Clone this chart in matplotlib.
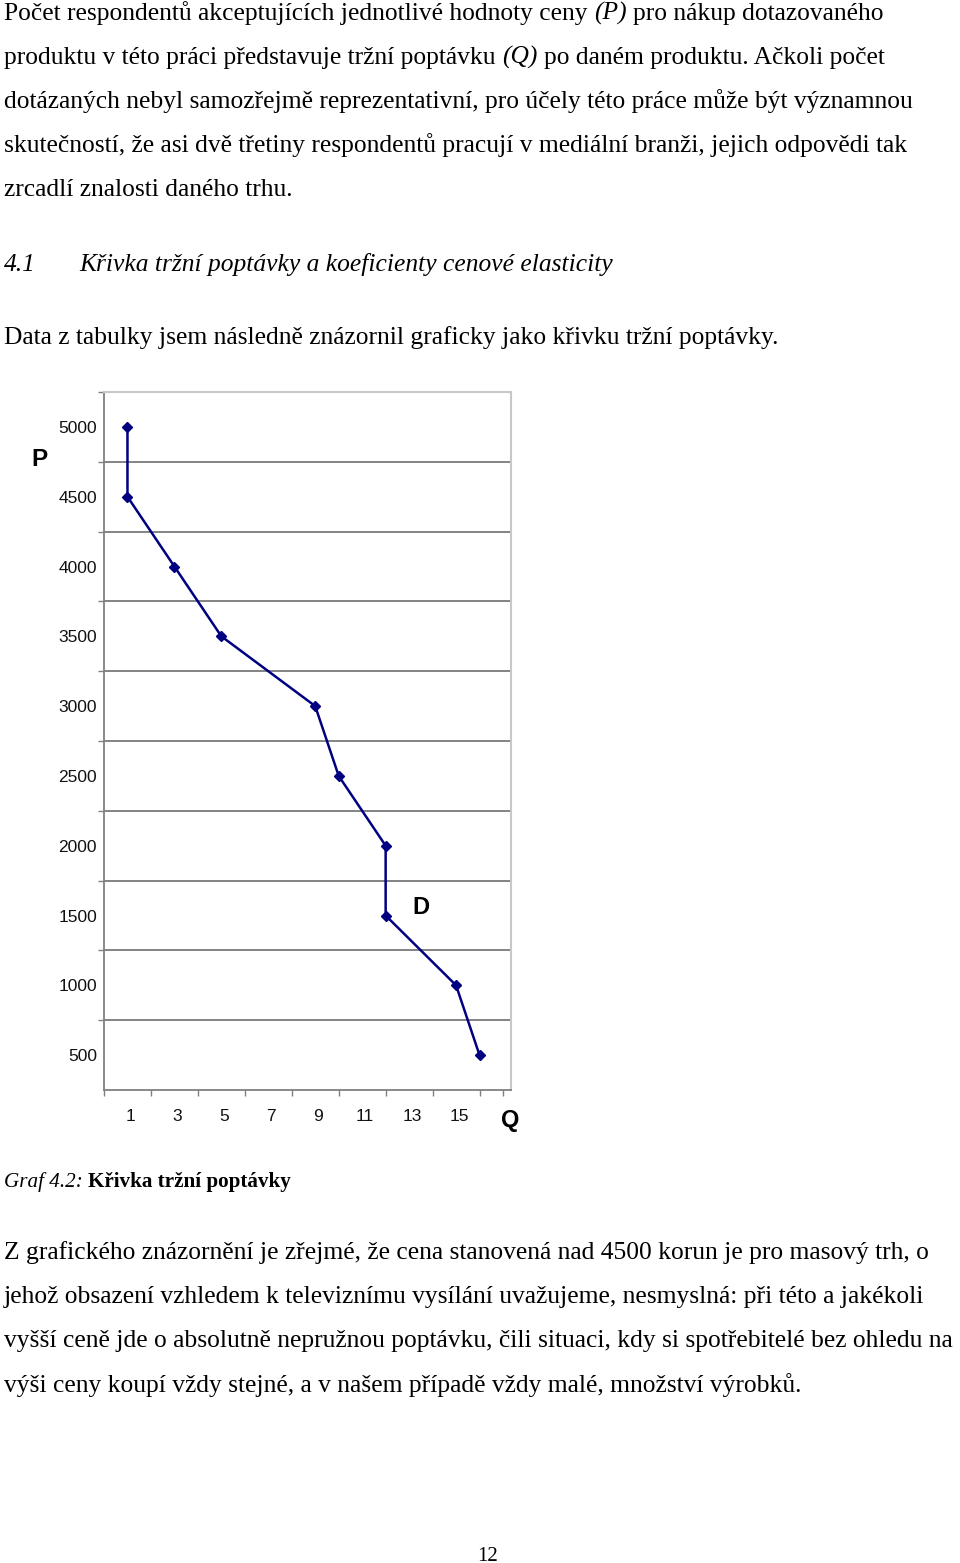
import matplotlib
matplotlib.use('Agg')
import matplotlib.pyplot as plt
import matplotlib.transforms as mtransforms
import numpy as np

# ---------------- data ----------------
Q = [1, 1, 3, 5, 9, 10, 12, 12, 15, 16]
P = [5000, 4500, 4000, 3500, 3000, 2500, 2000, 1500, 1000, 500]
x_tick_values = [1, 3, 5, 7, 9, 11, 13, 15]
y_tick_values = [5000, 4500, 4000, 3500, 3000, 2500, 2000, 1500, 1000, 500]
grid_values = [750, 1250, 1750, 2250, 2750, 3250, 3750, 4250, 4750]

para1 = [
    [("Počet respondentů akceptujících jednotlivé hodnoty ceny", "normal", "normal"),
     ("(P)", "italic", "normal"),
     ("pro nákup dotazovaného", "normal", "normal")],
    [("produktu v této práci představuje tržní poptávku", "normal", "normal"),
     ("(Q)", "italic", "normal"),
     ("po daném produktu. Ačkoli počet", "normal", "normal")],
    [("dotázaných nebyl samozřejmě reprezentativní, pro účely této práce může být významnou", "normal", "normal")],
    [("skutečností, že asi dvě třetiny respondentů pracují v mediální branži, jejich odpovědi tak", "normal", "normal")],
    [("zrcadlí znalosti daného trhu.", "normal", "normal")],
]
heading_num = "4.1"
heading_text = "Křivka tržní poptávky a koeficienty cenové elasticity"
intro_line = "Data z tabulky jsem následně znázornil graficky jako křivku tržní poptávky."
caption = [("Graf 4.2:", "italic", "normal"), ("Křivka tržní poptávky", "normal", "bold")]
para2 = [
    "Z grafického znázornění je zřejmé, že cena stanovená nad 4500 korun je pro masový trh, o",
    "jehož obsazení vzhledem k televiznímu vysílání uvažujeme, nesmyslná: při této a jakékoli",
    "vyšší ceně jde o absolutně nepružnou poptávku, čili situaci, kdy si spotřebitelé bez ohledu na",
    "výši ceny koupí vždy stejné, a v našem případě vždy malé, množství výrobků.",
]
page_number = "12"

# ---------------- figure ----------------
W, H = 960, 1563
fig = plt.figure(figsize=(W / 100, H / 100), dpi=100)
fig.patch.set_facecolor('white')
renderer = fig.canvas.get_renderer()

SERIF = ['Liberation Serif', 'DejaVu Serif']
SANS = ['Liberation Sans', 'DejaVu Sans']


def fx(x):
    return x / W


def fy(y):
    return 1 - y / H


def width_of(s, size, style, weight):
    t = fig.text(0, 0, s, fontsize=size, family=SERIF, style=style, weight=weight)
    w = t.get_window_extent(renderer=renderer).width
    t.remove()
    return w


def seg_line(x, y, segments, size):
    space = width_of("x x", size, "normal", "normal") - width_of("xx", size, "normal", "normal")
    for i, (txt, style, weight) in enumerate(segments):
        t = fig.text(fx(x), fy(y), txt, fontsize=size, family=SERIF, style=style,
                     weight=weight, va='baseline', ha='left')
        x += t.get_window_extent(renderer=renderer).width + space


BODY = 18.35
baselines1 = [20, 64, 108, 152, 196]
for yb, segs in zip(baselines1, para1):
    seg_line(4, yb, segs, BODY)

fig.text(fx(4), fy(271), heading_num, fontsize=BODY, family=SERIF, style='italic', va='baseline')
fig.text(fx(79), fy(271), heading_text, fontsize=BODY, family=SERIF, style='italic', va='baseline')
fig.text(fx(4), fy(344), intro_line, fontsize=BODY, family=SERIF, va='baseline')

seg_line(4, 1187, caption, 15.2)

baselines2 = [1259, 1303, 1347, 1392]
for yb, line in zip(baselines2, para2):
    fig.text(fx(4), fy(yb), line, fontsize=BODY, family=SERIF, va='baseline')

fig.text(fx(488), fy(1561), page_number, fontsize=15, family=SERIF, ha='center', va='baseline')

# ---------------- chart ----------------
ax_left, ax_right, ax_top, ax_bottom = 104, 511, 392, 1090
px_per_q = 23.47
ax = fig.add_axes([fx(ax_left), fy(ax_bottom), (ax_right - ax_left) / W, (ax_bottom - ax_top) / H])
ax.set_facecolor('white')

ax.plot(Q, P, color='#000080', lw=1.8, marker='D', ms=5.5, mfc='#000080',
        mec='#000080', zorder=3, clip_on=False)

ax.set_xlim(0, (ax_right - ax_left) / px_per_q)
ax.set_ylim(250, 5250)

# y axis: labels at price values, gridlines between them
ax.set_yticks(y_tick_values)
ax.set_yticklabels([str(v) for v in y_tick_values])
ax.set_yticks(grid_values + [5250], minor=True)
ax.tick_params(axis='y', which='major', length=0, pad=5, labelsize=12.5, labelcolor='#111111')
ax.tick_params(axis='y', which='minor', length=4, width=1.0, color='#808080', direction='out')
ax.yaxis.grid(True, which='minor', color='#7a7a7a', lw=1.3)
ax.yaxis.grid(False, which='major')

# x axis: small tick marks at every integer, labels at odd values
ax.set_xticks(x_tick_values)
ax.set_xticklabels([str(v) for v in x_tick_values])
ax.set_xticks(np.arange(0, 18), minor=True)
ax.tick_params(axis='x', which='major', length=0, pad=14, labelsize=12.5, labelcolor='#111111')
ax.tick_params(axis='x', which='minor', length=4, width=1.0, color='#808080', direction='out')

shift = mtransforms.ScaledTranslation(3 / 100, 0, fig.dpi_scale_trans)
for lbl in ax.get_xticklabels():
    lbl.set_transform(lbl.get_transform() + shift)
for lbl in ax.get_xticklabels() + ax.get_yticklabels():
    lbl.set_family(SANS)

for side in ['left', 'bottom']:
    ax.spines[side].set_color('#808080')
    ax.spines[side].set_linewidth(1.3)
for side in ['top', 'right']:
    ax.spines[side].set_color('#c8c8c8')
    ax.spines[side].set_linewidth(1.5)

fig.text(fx(39), fy(460), "P", fontsize=17.5, weight='bold', family=SANS, ha='center', va='center')
fig.text(fx(510), fy(1121), "Q", fontsize=17, weight='bold', family=SANS, ha='center', va='center')
fig.text(fx(421), fy(908), "D", fontsize=17, weight='bold', family=SANS, ha='center', va='center')

fig.savefig('out.png', dpi=100, facecolor='white')
